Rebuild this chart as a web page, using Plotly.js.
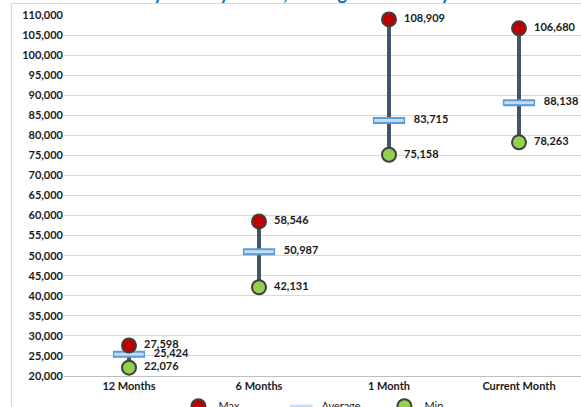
<!DOCTYPE html>
<html>
<head>
<meta charset="utf-8">
<script src="https://cdn.plot.ly/plotly-3.0.1.min.js"></script>
<style>
html,body{margin:0;padding:0;width:581px;height:407px;overflow:hidden;background:#fff;}
#frame{position:absolute;left:11px;top:3px;width:620px;height:460px;border-left:1px solid #d9d9d9;border-top:1px solid #d9d9d9;}
#chart{position:absolute;left:0;top:-25px;width:600px;height:440px;}
</style>
</head>
<body>
<div id="frame"></div>
<div id="chart"></div>
<script>
const categories = ["12 Months", "6 Months", "1 Month", "Current Month"];
const maxValues = [27598, 58546, 108909, 106680];
const avgValues = [25424, 50987, 83715, 88138];
const minValues = [22076, 42131, 75158, 78263];
const titleText = "Daily Activity – Max, Average and Min by Time Period";

const fmt = v => v.toLocaleString("en-US");
const labelFont = {family: "Lato, 'Liberation Sans', sans-serif", size: 11, color: "#1a1a1a", weight: 700};

// range lines from min to max
const lx = [], ly = [];
categories.forEach((c, i) => { lx.push(c, c, null); ly.push(minValues[i], maxValues[i], null); });

const traces = [
  {x: lx, y: ly, mode: "lines", line: {color: "#44546a", width: 4}, showlegend: false, hoverinfo: "skip", cliponaxis: false},
  {x: categories, y: avgValues, mode: "markers", name: "Average_border", showlegend: false, cliponaxis: false,
   marker: {symbol: "line-ew", size: 23, line: {color: "#5b9bd5", width: 7}}},
  {x: categories, y: avgValues, mode: "markers+text", name: "Average", cliponaxis: false,
   text: avgValues.map(v => "    " + fmt(v)), textposition: "middle right", textfont: labelFont,
   marker: {symbol: "line-ew", size: 21, line: {color: "#c5dcf2", width: 3}}},
  {x: categories, y: maxValues, mode: "markers+text", name: "Max", cliponaxis: false,
   text: maxValues.map(v => "  " + fmt(v)), textposition: "middle right", textfont: labelFont,
   marker: {symbol: "circle", size: 14, color: "#c00000", line: {color: "#3f3f3f", width: 2}}},
  {x: categories, y: minValues, mode: "markers+text", name: "Min", cliponaxis: false,
   text: minValues.map(v => "  " + fmt(v)), textposition: "middle right", textfont: labelFont,
   marker: {symbol: "circle", size: 14, color: "#92d050", line: {color: "#3f3f3f", width: 2}}}
];

const layout = {
  width: 600, height: 440,
  margin: {l: 64, r: 16, t: 40, b: 39, autoexpand: false},
  paper_bgcolor: "rgba(0,0,0,0)", plot_bgcolor: "rgba(0,0,0,0)",
  font: {family: "Lato, 'Liberation Sans', sans-serif", size: 11, color: "#1a1a1a"},
  title: {text: titleText, font: {size: 18, color: "#0070c0", weight: 700}, x: 0.56, xanchor: "center", y: 0.958, yanchor: "middle"},
  xaxis: {type: "category", range: [-0.5, 3.5], showgrid: false, zeroline: false, ticks: "",
          showline: true, linecolor: "#bfbfbf", linewidth: 1, tickfont: {size: 11, weight: 700, color: "#1a1a1a"}},
  yaxis: {range: [20000, 110000], dtick: 5000, tickformat: ",d", gridcolor: "#d9d9d9", gridwidth: 1,
          zeroline: false, showline: false, ticks: "", tickfont: {size: 11, weight: 700, color: "#1a1a1a"}, fixedrange: true},
  legend: {orientation: "h", x: 0.22, xanchor: "left", yref: "container", y: 0.02, yanchor: "middle", font: {size: 11},
           traceorder: "normal", entrywidth: 58, entrywidthmode: "pixels"},
  showlegend: true
};

// legend order: Max, Average, Min
traces[3].legendrank = 1; traces[2].legendrank = 2; traces[4].legendrank = 3;

Plotly.newPlot("chart", traces, layout, {displayModeBar: false, staticPlot: true});
</script>
</body>
</html>
